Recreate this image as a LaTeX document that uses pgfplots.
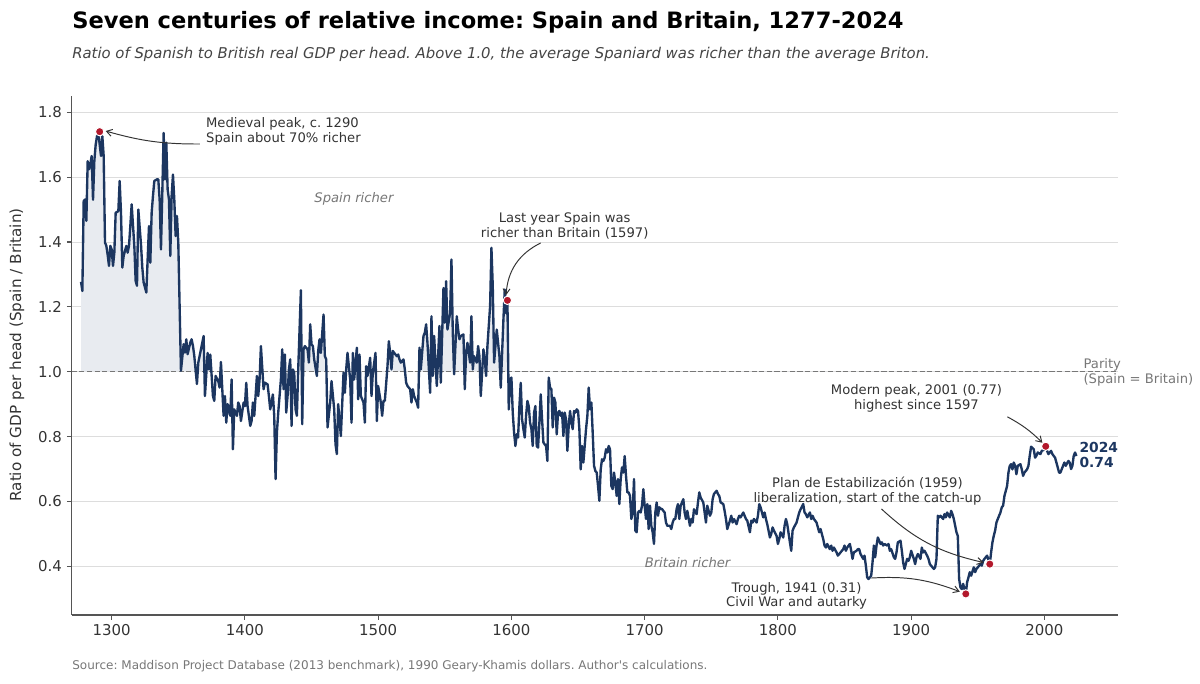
\documentclass[border=0pt]{standalone}
\usepackage{fontspec}
\setmainfont{DejaVu Sans}
\usepackage{pgfplots}
\usepackage{pgfplotstable}
\pgfplotsset{compat=1.18}
\usepgfplotslibrary{fillbetween}
\usetikzlibrary{arrows.meta}
\definecolor{navyc}{RGB}{28,54,96}
\definecolor{fillc}{RGB}{232,235,240}
\definecolor{redc}{RGB}{178,24,43}
\definecolor{gridc}{RGB}{221,221,221}
\definecolor{spinec}{RGB}{85,85,85}
\definecolor{tickc}{RGB}{51,51,51}
\definecolor{annc}{RGB}{51,51,51}
\definecolor{softc}{RGB}{119,119,119}
\definecolor{subc}{RGB}{68,68,68}

\pgfplotstableread{
year ratio
1277 1.277
1278 1.249
1279 1.526
1280 1.531
1281 1.465
1282 1.649
1283 1.624
1284 1.640
1285 1.665
1286 1.530
1287 1.650
1288 1.700
1289 1.726
1290 1.740
1291 1.700
1292 1.665
1293 1.726
1294 1.665
1295 1.398
1296 1.388
1297 1.360
1298 1.326
1299 1.388
1300 1.377
1301 1.326
1302 1.367
1303 1.490
1305 1.495
1306 1.588
1307 1.490
1308 1.321
1309 1.357
1311 1.388
1312 1.367
1313 1.388
1314 1.449
1315 1.516
1317 1.388
1318 1.280
1319 1.265
1320 1.500
1322 1.393
1323 1.321
1324 1.275
1325 1.260
1326 1.244
1328 1.449
1329 1.336
1330 1.490
1331 1.542
1332 1.588
1334 1.593
1335 1.593
1336 1.531
1337 1.377
1338 1.552
1339 1.736
1340 1.593
1341 1.706
1342 1.562
1343 1.531
1344 1.357
1345 1.542
1346 1.608
1347 1.531
1348 1.418
1349 1.480
1350 1.398
1352 1.003
1354 1.085
1355 1.059
1356 1.100
1357 1.054
1359 1.090
1360 1.100
1361 1.080
1362 1.049
1364 0.962
1365 1.028
1366 1.048
1369 1.110
1370 0.925
1372 1.058
1373 1.007
1374 1.053
1376 0.925
1377 0.910
1378 0.987
1380 0.971
1381 0.951
1382 1.030
1384 0.864
1385 0.925
1386 0.843
1387 0.900
1389 0.864
1390 0.976
1391 0.761
1392 0.884
1394 0.864
1395 0.905
1396 0.894
1397 0.848
1399 0.905
1400 0.894
1401 0.966
1402 0.894
1404 0.833
1405 0.848
1406 0.905
1407 0.864
1409 0.987
1410 0.925
1411 0.976
1412 1.079
1414 0.946
1415 0.966
1417 0.961
1418 0.925
1419 0.884
1421 0.930
1422 0.864
1423 0.669
1424 0.812
1425 0.874
1427 0.976
1428 1.069
1429 0.946
1430 1.053
1431 0.874
1432 0.925
1433 1.007
1434 1.038
1435 0.833
1436 1.007
1437 0.997
1438 0.884
1439 0.864
1440 1.007
1442 1.251
1443 0.838
1444 1.069
1445 1.079
1447 1.069
1448 1.028
1449 1.146
1450 1.084
1451 1.079
1452 1.038
1454 0.987
1455 1.064
1456 1.100
1457 1.058
1459 1.176
1460 1.048
1461 1.038
1462 0.828
1464 0.905
1465 0.971
1467 0.884
1468 0.776
1469 0.746
1470 0.900
1471 0.850
1472 0.802
1474 0.997
1475 0.935
1476 1.007
1477 1.058
1479 0.976
1480 0.843
1481 1.058
1482 0.976
1484 1.074
1485 0.915
1486 1.053
1487 0.925
1489 0.905
1490 0.843
1491 1.017
1492 0.987
1494 1.043
1495 0.925
1496 0.997
1498 1.058
1499 0.848
1500 0.956
1502 0.905
1503 0.864
1504 0.910
1505 0.910
1507 1.017
1508 1.094
1509 1.058
1510 1.007
1511 1.064
1512 1.058
1514 1.048
1515 1.053
1516 1.038
1517 1.028
1519 1.038
1520 1.007
1521 0.966
1522 0.956
1524 0.946
1525 0.905
1526 0.946
1527 0.925
1529 0.905
1530 0.889
1531 1.074
1532 1.007
1534 1.110
1535 1.120
1536 1.146
1537 1.089
1539 0.935
1540 1.171
1541 0.987
1542 1.110
1544 0.956
1545 1.048
1546 1.141
1547 0.966
1549 1.258
1550 1.151
1551 1.279
1552 1.130
1554 1.182
1555 1.346
1556 1.120
1557 0.992
1559 1.171
1560 1.130
1561 1.100
1562 1.110
1564 1.115
1565 0.946
1566 1.058
1567 1.089
1569 1.028
1570 1.171
1571 1.007
1572 1.048
1574 1.028
1575 1.079
1576 1.048
1577 0.925
1579 1.069
1580 1.038
1581 0.987
1582 1.079
1584 1.202
1585 1.382
1586 1.264
1587 1.028
1589 1.130
1590 1.089
1591 1.048
1592 0.951
1594 1.161
1595 1.253
1596 1.180
1597 1.220
1598 0.884
1599 0.976
1600 0.982
1601 0.874
1602 0.812
1603 0.771
1604 0.807
1605 0.797
1606 0.894
1607 0.966
1608 0.853
1609 0.823
1610 0.797
1611 0.864
1612 0.910
1613 0.894
1614 0.843
1615 0.823
1616 0.771
1617 0.874
1618 0.894
1619 0.771
1620 0.766
1621 0.843
1622 0.930
1623 0.853
1624 0.782
1625 0.776
1626 0.771
1627 0.725
1628 0.982
1629 0.951
1630 0.946
1631 0.828
1632 0.920
1633 0.905
1634 0.807
1635 0.874
1636 0.879
1637 0.864
1638 0.874
1639 0.802
1640 0.874
1641 0.853
1642 0.756
1643 0.833
1644 0.879
1645 0.843
1646 0.823
1647 0.879
1648 0.874
1649 0.884
1650 0.879
1651 0.823
1652 0.699
1653 0.771
1654 0.720
1655 0.771
1656 0.823
1657 0.864
1658 0.951
1659 0.884
1660 0.905
1661 0.812
1662 0.710
1663 0.694
1664 0.689
1665 0.648
1666 0.602
1667 0.699
1668 0.730
1669 0.725
1670 0.735
1671 0.761
1672 0.751
1673 0.771
1674 0.761
1675 0.648
1676 0.638
1677 0.689
1678 0.658
1679 0.617
1680 0.669
1681 0.592
1682 0.669
1683 0.705
1684 0.689
1685 0.740
1686 0.679
1687 0.628
1688 0.628
1689 0.617
1690 0.546
1691 0.566
1692 0.669
1693 0.510
1694 0.505
1695 0.566
1696 0.571
1697 0.566
1698 0.587
1699 0.638
1700 0.587
1701 0.546
1702 0.592
1703 0.515
1704 0.587
1705 0.525
1706 0.505
1707 0.469
1708 0.566
1709 0.597
1710 0.556
1711 0.582
1712 0.577
1713 0.577
1714 0.571
1715 0.566
1716 0.535
1717 0.525
1718 0.525
1719 0.525
1720 0.515
1721 0.535
1722 0.546
1723 0.546
1724 0.577
1725 0.592
1726 0.546
1727 0.587
1729 0.607
1730 0.566
1731 0.546
1732 0.571
1734 0.525
1735 0.546
1736 0.535
1737 0.576
1739 0.561
1740 0.597
1741 0.628
1742 0.612
1744 0.597
1745 0.566
1746 0.535
1747 0.587
1749 0.556
1750 0.566
1751 0.607
1752 0.623
1754 0.633
1755 0.623
1756 0.617
1757 0.597
1759 0.592
1760 0.571
1761 0.546
1762 0.515
1764 0.541
1765 0.556
1766 0.535
1767 0.546
1769 0.530
1770 0.546
1771 0.556
1772 0.551
1774 0.566
1775 0.556
1776 0.546
1777 0.541
1779 0.505
1780 0.541
1781 0.535
1782 0.546
1784 0.535
1785 0.556
1786 0.592
1787 0.582
1789 0.551
1790 0.566
1791 0.546
1792 0.530
1794 0.489
1795 0.500
1796 0.520
1797 0.510
1799 0.494
1800 0.469
1801 0.484
1802 0.505
1804 0.489
1805 0.525
1806 0.546
1807 0.530
1809 0.474
1810 0.448
1811 0.510
1812 0.520
1814 0.535
1815 0.551
1816 0.566
1817 0.576
1819 0.592
1820 0.566
1821 0.561
1822 0.551
1824 0.566
1825 0.546
1826 0.556
1827 0.546
1829 0.535
1830 0.520
1831 0.505
1832 0.515
1834 0.484
1835 0.464
1836 0.458
1837 0.469
1839 0.453
1840 0.464
1841 0.448
1842 0.458
1844 0.443
1845 0.433
1846 0.438
1847 0.443
1849 0.453
1850 0.464
1851 0.448
1852 0.458
1854 0.469
1855 0.448
1856 0.423
1857 0.443
1859 0.448
1860 0.453
1861 0.453
1862 0.438
1864 0.423
1865 0.433
1866 0.402
1867 0.366
1868 0.361
1870 0.371
1871 0.412
1872 0.464
1873 0.428
1874 0.464
1875 0.489
1877 0.469
1878 0.474
1879 0.464
1880 0.469
1882 0.464
1883 0.469
1884 0.448
1885 0.453
1887 0.428
1888 0.423
1889 0.443
1890 0.474
1892 0.479
1893 0.448
1894 0.412
1895 0.392
1897 0.423
1898 0.417
1899 0.428
1900 0.448
1902 0.423
1903 0.407
1904 0.428
1905 0.438
1907 0.423
1908 0.458
1909 0.443
1910 0.448
1912 0.433
1913 0.423
1914 0.407
1915 0.402
1917 0.392
1918 0.397
1919 0.423
1920 0.556
1921 0.551
1922 0.556
1924 0.546
1925 0.561
1926 0.551
1927 0.566
1929 0.551
1930 0.571
1931 0.561
1932 0.546
1934 0.505
1935 0.494
1936 0.361
1937 0.335
1938 0.330
1939 0.346
1940 0.330
1941 0.315
1942 0.351
1943 0.366
1944 0.382
1945 0.371
1947 0.397
1948 0.382
1949 0.392
1950 0.397
1952 0.407
1953 0.402
1954 0.417
1955 0.423
1957 0.433
1958 0.420
1959 0.407
1960 0.443
1961 0.474
1962 0.494
1963 0.510
1964 0.535
1965 0.546
1967 0.566
1968 0.582
1969 0.587
1970 0.617
1972 0.648
1973 0.689
1974 0.710
1975 0.715
1976 0.699
1977 0.720
1978 0.710
1979 0.684
1980 0.710
1982 0.715
1983 0.699
1984 0.679
1985 0.689
1987 0.699
1988 0.710
1989 0.741
1990 0.769
1992 0.761
1993 0.735
1994 0.741
1995 0.751
1997 0.746
1998 0.756
2000 0.760
2001 0.770
2002 0.756
2003 0.746
2004 0.751
2005 0.756
2006 0.746
2008 0.735
2009 0.720
2010 0.705
2011 0.689
2012 0.689
2014 0.710
2015 0.720
2016 0.710
2018 0.725
2019 0.720
2020 0.700
2021 0.710
2022 0.741
2023 0.751
2024 0.740
}\data

\begin{document}
\frenchspacing
\begin{tikzpicture}
\begin{axis}[
  at={(51.62bp,49.68bp)}, anchor=south west,
  scale only axis, width=753.12bp, height=373.68bp,
  xmin=1270, xmax=2055, ymin=0.25, ymax=1.85,
  axis lines*=left,
  axis line style={draw=spinec, line width=0.8bp},
  xtick={1300,1400,1500,1600,1700,1800,1900,2000},
  ytick={0.4,0.6,0.8,1.0,1.2,1.4,1.6,1.8},
  tick align=outside, major tick length=3.5bp,
  tick style={draw=spinec, line width=0.8bp},
  ymajorgrids, grid style={draw=gridc, line width=0.6bp},
  /pgf/number format/assume math mode=true,
  ticklabel style={font=\fontsize{10.8}{13}\selectfont, text=tickc},
  x tick label style={/pgf/number format/1000 sep={}},
  y tick label style={/pgf/number format/fixed, /pgf/number format/fixed zerofill, /pgf/number format/precision=1},
  clip=false,
]
\addplot[name path=clipd, draw=none, forget plot] table[x index=0, y expr={max(\thisrowno{1},1)}] {\data};
\addplot[name path=par, draw=none, forget plot] coordinates {(1277,1) (2024,1)};
\addplot[fill=fillc, draw=none, forget plot] fill between[of=clipd and par];
\draw[softc, line width=0.9bp, dash pattern=on 3.7bp off 1.8bp] (axis cs:1270,1) -- (axis cs:2055,1);
\addplot[navyc, line width=1.7bp, line join=round] table[x index=0, y index=1] {\data};
\addplot[only marks, mark=*, mark size=3bp, mark options={fill=redc, draw=white, line width=0.7bp}] coordinates {(1291,1.740) (1597,1.220) (1941,0.315) (1959,0.407) (2001,0.770)};

% annotations
\tikzset{ann/.style={font=\fontsize{9.5}{10.8}\selectfont, text=annc, inner sep=0pt},
         arr/.style={draw=annc, line width=0.7bp, -{Straight Barb[length=4bp,width=5bp]}}}
\node[ann, anchor=west, align=left] at (axis cs:1370.7,1.741) {Medieval peak, c. 1290\\Spain about 70\% richer};
\draw[arr] (axis cs:1366.2,1.702) to[bend left=8] (axis cs:1295.5,1.742);
\node[ann, text=softc, font=\fontsize{9.5}{10.8}\selectfont\itshape] at (axis cs:1481.8,1.533) {Spain richer};
\node[ann, text=softc, font=\fontsize{9.5}{10.8}\selectfont\itshape] at (axis cs:1732.2,0.413) {Britain richer};
\node[ann, align=center] at (axis cs:1640,1.449) {Last year Spain was\\richer than Britain (1597)};
\draw[arr] (axis cs:1622,1.397) to[bend right=30] (axis cs:1596,1.236);
\node[ann, align=center] at (axis cs:1904,0.919) {Modern peak, 2001 (0.77)\\highest since 1597};
\draw[arr] (axis cs:1972.2,0.861) to[bend left=8] (axis cs:1998.5,0.781);
\node[ann, align=center] at (axis cs:1867.2,0.631) {Plan de Estabilización (1959)\\liberalization, start of the catch-up};
\draw[arr] (axis cs:1877.7,0.577) to[bend right=15] (axis cs:1954.3,0.412);
\node[ann, align=center] at (axis cs:1814,0.309) {Trough, 1941 (0.31)\\Civil War and autarky};
\draw[arr] (axis cs:1870.2,0.364) to[bend left=12] (axis cs:1936.5,0.322);
\node[ann, text=softc, anchor=west, align=left] at (axis cs:2029.2,0.998) {Parity\\(Spain = Britain)};
\node[ann, text=navyc, font=\fontsize{10}{11.3}\selectfont\bfseries, anchor=west, align=left] at (axis cs:2026.2,0.743) {2024\\0.74};
\end{axis}
% titles and labels
\node[anchor=base west, inner sep=0pt, font=\fontsize{16.3}{19}\selectfont\bfseries, text=black] at (51.84bp,472.0bp) {Seven centuries of relative income: Spain and Britain, 1277-2024};
\node[anchor=base west, inner sep=0pt, font=\fontsize{10.74}{13}\selectfont\itshape, text=subc] at (51.84bp,450.4bp) {Ratio of Spanish to British real GDP per head. Above 1.0, the average Spaniard was richer than the average Briton.};
\node[rotate=90, inner sep=0pt, font=\fontsize{11}{13}\selectfont, text=tickc] at (12.2bp,236.9bp) {Ratio of GDP per head (Spain / Britain)};
\node[anchor=base west, inner sep=0pt, font=\fontsize{8.68}{10}\selectfont, text=softc] at (51.84bp,10.1bp) {Source: Maddison Project Database (2013 benchmark), 1990 Geary-Khamis dollars. Author\textquotesingle s calculations.};
\pgfresetboundingbox
\path[use as bounding box] (0,0) rectangle (864bp,492.48bp);
\end{tikzpicture}
\end{document}
